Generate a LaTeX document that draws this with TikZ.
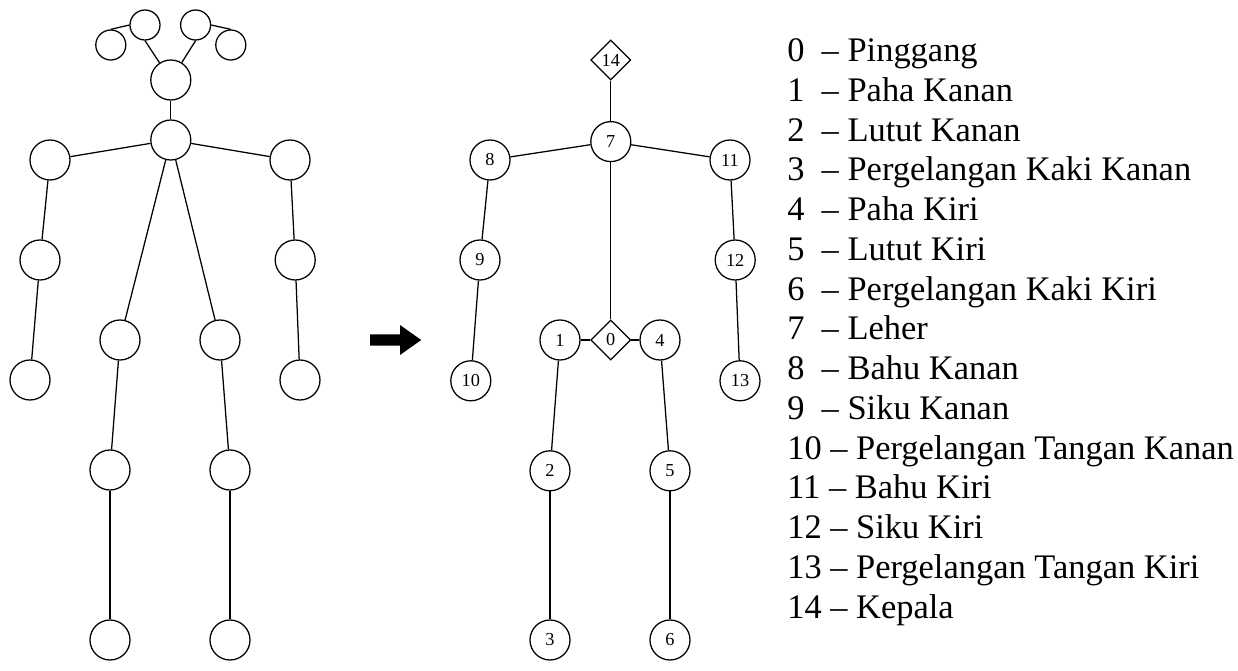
\documentclass[tikz,border=0pt]{standalone}
\usepackage{fontspec}
\setmainfont{Liberation Serif}
\usepackage{tikz}
\usetikzlibrary{shapes.geometric}
\tikzstyle{jt}=[circle,draw=black,line width=0.9pt,inner sep=0pt,minimum size=1cm]
\tikzstyle{sj}=[circle,draw=black,line width=0.9pt,inner sep=0pt,minimum size=0.75cm]
\tikzstyle{kp}=[circle,draw=black,line width=0.9pt,inner sep=0pt,minimum size=1cm,
  font=\fontsize{13pt}{15pt}\selectfont]
\tikzstyle{kd}=[diamond,draw=black,line width=0.9pt,inner sep=0pt,minimum size=1cm,
  font=\fontsize{13pt}{15pt}\selectfont]
\tikzstyle{lg}=[anchor=base west,inner sep=0pt,font=\fontsize{24.5pt}{28pt}\selectfont]
\tikzstyle{bone}=[line width=0.9pt]

\begin{document}
\begin{tikzpicture}
		\useasboundingbox (0, 0) rectangle (30.95, -16.775);
		% skeleton from the pose estimator
		\node [style=sj] (15) at (2.77, -1.125) {};
		\node [style=sj] (16) at (3.625, -0.625) {};
		\node [style=sj] (17) at (4.89, -0.625) {};
		\node [style=sj] (18) at (5.77, -1.125) {};
		\node [style=jt] (19) at (4.27, -2) {};
		\node [style=jt] (20) at (4.27, -3.5) {};
		\node [style=jt] (21) at (1.25, -4) {};
		\node [style=jt] (22) at (7.25, -4) {};
		\node [style=jt] (23) at (1, -6.5) {};
		\node [style=jt] (24) at (7.38, -6.5) {};
		\node [style=jt] (25) at (0.75, -9.5) {};
		\node [style=jt] (26) at (7.5, -9.5) {};
		\node [style=jt] (27) at (3, -8.5) {};
		\node [style=jt] (28) at (5.5, -8.5) {};
		\node [style=jt] (29) at (2.75, -11.75) {};
		\node [style=jt] (30) at (5.75, -11.75) {};
		\node [style=jt] (31) at (2.75, -16) {};
		\node [style=jt] (32) at (5.75, -16) {};
		\draw [style=bone] (15.north) to (16.west);
		\draw [style=bone] (17.east) to (18.north);
		\draw [style=bone] (16.south) to (19);
		\draw [style=bone] (17.south) to (19);
		\draw [style=bone] (19) to (20);
		\draw [style=bone] (20) to (21);
		\draw [style=bone] (20) to (22);
		\draw [style=bone] (21) to (23);
		\draw [style=bone] (23) to (25);
		\draw [style=bone] (22) to (24);
		\draw [style=bone] (24) to (26);
		\draw [style=bone] (20) to (27);
		\draw [style=bone] (20) to (28);
		\draw [style=bone] (27) to (29);
		\draw [style=bone] (29) to (31);
		\draw [style=bone] (28) to (30);
		\draw [style=bone] (30) to (32);

		% block arrow
		\fill (9.25, -8.36) -- (10, -8.36) -- (10, -8.125) -- (10.53, -8.5)
			-- (10, -8.875) -- (10, -8.64) -- (9.25, -8.64) -- cycle;

		% 15 keypoints
		\node [style=kd] (14) at (15.27, -1.5) {14};
		\node [style=kp] (7) at (15.27, -3.54) {7};
		\node [style=kp] (8) at (12.25, -4) {8};
		\node [style=kp] (11) at (18.25, -4) {11};
		\node [style=kp] (9) at (12, -6.5) {9};
		\node [style=kp] (12) at (18.38, -6.5) {12};
		\node [style=kp] (10) at (11.77, -9.52) {10};
		\node [style=kp] (13) at (18.5, -9.52) {13};
		\node [style=kd] (0) at (15.27, -8.5) {0};
		\node [style=kp] (1) at (14, -8.5) {1};
		\node [style=kp] (4) at (16.5, -8.5) {4};
		\node [style=kp] (2) at (13.75, -11.77) {2};
		\node [style=kp] (5) at (16.75, -11.77) {5};
		\node [style=kp] (3) at (13.75, -16) {3};
		\node [style=kp] (6) at (16.75, -16) {6};
		\draw [style=bone] (14) to (7);
		\draw [style=bone] (7) to (8);
		\draw [style=bone] (7) to (11);
		\draw [style=bone] (7) to (0);
		\draw [style=bone] (8) to (9);
		\draw [style=bone] (9) to (10);
		\draw [style=bone] (11) to (12);
		\draw [style=bone] (12) to (13);
		\draw [style=bone] (0) to (1);
		\draw [style=bone] (0) to (4);
		\draw [style=bone] (1) to (2);
		\draw [style=bone] (2) to (3);
		\draw [style=bone] (4) to (5);
		\draw [style=bone] (5) to (6);

		% legend
		\node [style=lg] (40) at (19.675, -1.54) {0~~-- Pinggang};
		\node [style=lg] (41) at (19.675, -2.534) {1~~-- Paha Kanan};
		\node [style=lg] (42) at (19.675, -3.528) {2~~-- Lutut Kanan};
		\node [style=lg] (43) at (19.675, -4.522) {3~~-- Pergelangan Kaki Kanan};
		\node [style=lg] (44) at (19.675, -5.516) {4~~-- Paha Kiri};
		\node [style=lg] (45) at (19.675, -6.51) {5~~-- Lutut Kiri};
		\node [style=lg] (46) at (19.675, -7.504) {6~~-- Pergelangan Kaki Kiri};
		\node [style=lg] (47) at (19.675, -8.498) {7~~-- Leher};
		\node [style=lg] (48) at (19.675, -9.492) {8~~-- Bahu Kanan};
		\node [style=lg] (49) at (19.675, -10.486) {9~~-- Siku Kanan};
		\node [style=lg] (50) at (19.675, -11.48) {10 -- Pergelangan Tangan Kanan};
		\node [style=lg] (51) at (19.675, -12.474) {11 -- Bahu Kiri};
		\node [style=lg] (52) at (19.675, -13.468) {12 -- Siku Kiri};
		\node [style=lg] (53) at (19.675, -14.462) {13 -- Pergelangan Tangan Kiri};
		\node [style=lg] (54) at (19.675, -15.456) {14 -- Kepala};
\end{tikzpicture}
\end{document}
